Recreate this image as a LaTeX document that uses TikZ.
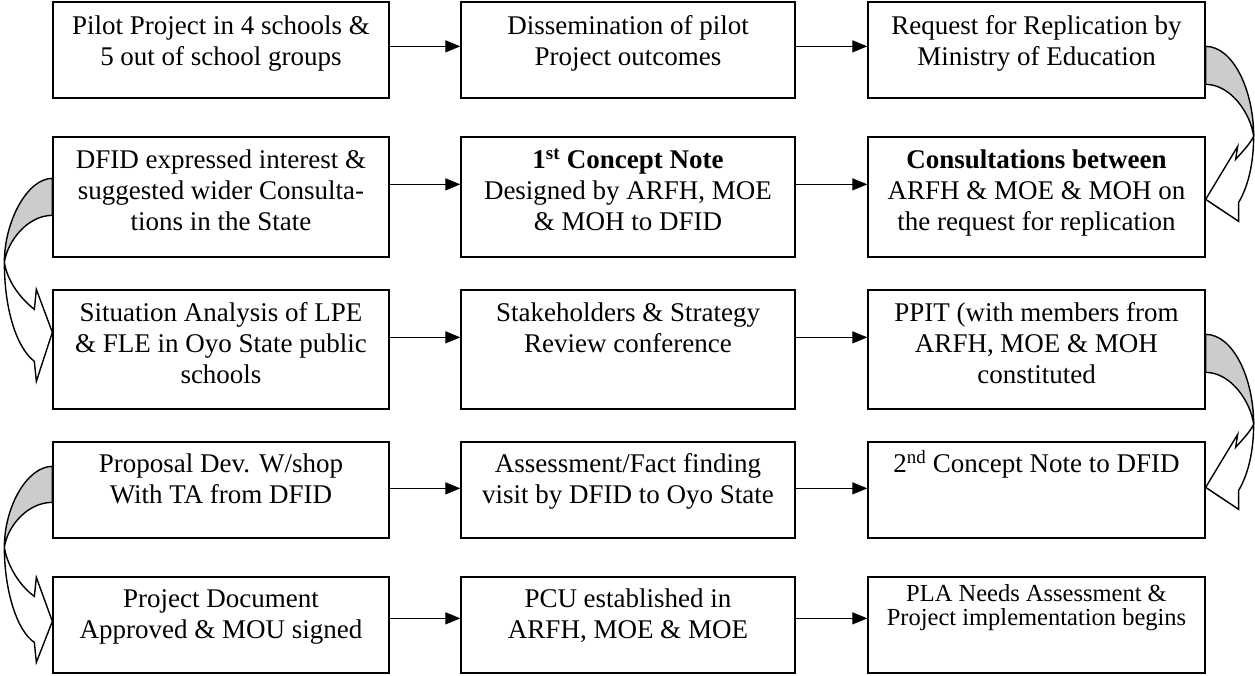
\documentclass[tikz,border=0pt]{standalone}
\usepackage{fontspec}
\setmainfont{Liberation Serif}
\usetikzlibrary{arrows.meta,calc}
\definecolor{bandgray}{RGB}{204,204,204}
\newcommand{\tstrut}{\rule{0pt}{24pt}}
\newcommand{\sstrut}{\rule{0pt}{20pt}}
\begin{document}
\begin{tikzpicture}[x=1pt,y=-1pt,
  box/.style={draw, line width=1.3pt, rectangle, inner sep=0pt},
  txt/.style={anchor=north, align=center, inner sep=0pt, font=\fontsize{27}{31}\selectfont},
  smalltxt/.style={anchor=north, align=center, inner sep=0pt, font=\fontsize{24.5}{23.5}\selectfont},
  arr/.style={line width=1.2pt, -{Triangle[length=15pt,width=12pt]}},
  band/.style={draw, line width=1.4pt, line join=miter}
]
\useasboundingbox (0,0) rectangle (1255,675);

% boxes
\node[box, minimum width=336pt, minimum height=96pt]  (b11) at (221,50) {};
\node[box, minimum width=334pt, minimum height=96pt]  (b12) at (628,50) {};
\node[box, minimum width=337pt, minimum height=96pt]  (b13) at (1036.5,50) {};
\node[box, minimum width=336pt, minimum height=120pt] (b21) at (221,197) {};
\node[box, minimum width=334pt, minimum height=120pt] (b22) at (628,197) {};
\node[box, minimum width=337pt, minimum height=120pt] (b23) at (1036.5,197) {};
\node[box, minimum width=336pt, minimum height=119pt] (b31) at (221,349.5) {};
\node[box, minimum width=334pt, minimum height=119pt] (b32) at (628,349.5) {};
\node[box, minimum width=337pt, minimum height=119pt] (b33) at (1036.5,349.5) {};
\node[box, minimum width=336pt, minimum height=96pt]  (b41) at (221,490) {};
\node[box, minimum width=334pt, minimum height=96pt]  (b42) at (628,490) {};
\node[box, minimum width=337pt, minimum height=96pt]  (b43) at (1036.5,490) {};
\node[box, minimum width=336pt, minimum height=96pt]  (b51) at (221,625) {};
\node[box, minimum width=334pt, minimum height=96pt]  (b52) at (628,625) {};
\node[box, minimum width=337pt, minimum height=96pt]  (b53) at (1036.5,625) {};

% texts
\node[txt] (t11) at ($(b11.north)+(0,9)$) {\tstrut Pilot Project in 4 schools \&\\5 out of school groups};
\node[txt] (t12) at ($(b12.north)+(0,9)$) {\tstrut Dissemination of pilot\\Project outcomes};
\node[txt] (t13) at ($(b13.north)+(0,9)$) {\tstrut Request for Replication by\\Ministry of Education};
\node[txt] (t21) at ($(b21.north)+(0,8)$) {\tstrut DFID expressed interest \&\\suggested wider Consulta-\\tions in the State};
\node[txt] (t22) at ($(b22.north)+(0,8)$) {\tstrut\textbf{1\textsuperscript{st} Concept Note}\\Designed by ARFH, MOE\\\& MOH to DFID};
\node[txt] (t23) at ($(b23.north)+(0,8)$) {\tstrut\textbf{Consultations between}\\ARFH \& MOE \& MOH on\\the request for replication};
\node[txt] (t31) at ($(b31.north)+(0,8)$) {\tstrut Situation Analysis of LPE\\\& FLE in Oyo State public\\schools};
\node[txt] (t32) at ($(b32.north)+(0,8)$) {\tstrut Stakeholders \& Strategy\\Review conference};
\node[txt] (t33) at ($(b33.north)+(0,8)$) {\tstrut PPIT (with members from\\ARFH, MOE \& MOH\\constituted};
\node[txt] (t41) at ($(b41.north)+(0,7)$) {\tstrut Proposal Dev. W/shop\\With TA from DFID};
\node[txt] (t42) at ($(b42.north)+(0,7)$) {\tstrut Assessment/Fact finding\\visit by DFID to Oyo State};
\node[txt] (t43) at ($(b43.north)+(0,7)$) {\tstrut 2\textsuperscript{nd} Concept Note to DFID};
\node[txt] (t51) at ($(b51.north)+(0,7)$) {\tstrut Project Document\\Approved \& MOU signed};
\node[txt] (t52) at ($(b52.north)+(0,7)$) {\tstrut PCU established in\\ARFH, MOE \& MOE};
\node[smalltxt] (t53) at ($(b53.north)+(0,5)$) {\sstrut PLA Needs Assessment \&\\Project implementation begins};

% horizontal arrows
\draw[arr] ($(b11.north east)+(0,45)$) -- ($(b12.north west)+(0,45)$);
\draw[arr] ($(b12.north east)+(0,45)$) -- ($(b13.north west)+(0,45)$);
\draw[arr] ($(b21.north east)+(0,48)$) -- ($(b22.north west)+(0,48)$);
\draw[arr] ($(b22.north east)+(0,48)$) -- ($(b23.north west)+(0,48)$);
\draw[arr] ($(b31.north east)+(0,48)$) -- ($(b32.north west)+(0,48)$);
\draw[arr] ($(b32.north east)+(0,48)$) -- ($(b33.north west)+(0,48)$);
\draw[arr] ($(b41.north east)+(0,47)$) -- ($(b42.north west)+(0,47)$);
\draw[arr] ($(b42.north east)+(0,47)$) -- ($(b43.north west)+(0,47)$);
\draw[arr] ($(b51.north east)+(0,42)$) -- ($(b52.north west)+(0,42)$);
\draw[arr] ($(b52.north east)+(0,42)$) -- ($(b53.north west)+(0,42)$);

% curved block arrows, right side
\foreach \b in {b13,b33}{
\begin{scope}[shift={(\b.north east)}]
  \path[band, fill=bandgray] (0,45) .. controls (27,45) and (48,88) .. (48,135)
     .. controls (45,112) and (25,83) .. (0,83) -- cycle;
  \path[band, fill=white] (48,135) .. controls (48,163) and (42,186) .. (33,201)
     -- (33,220) -- (0,198) -- (32,145) -- (30,158)
     .. controls (37,150) and (44,143) .. (48,135) -- cycle;
\end{scope}
}

% curved block arrows, left side
\begin{scope}[shift={(b21.north west)}]
  \path[band, fill=bandgray] (0,42) .. controls (-25,42) and (-48,85) .. (-48,126)
     .. controls (-45,105) and (-25,79) .. (0,79) -- cycle;
  \path[band, fill=white] (-48,126) .. controls (-48,175) and (-35,212) .. (-18,225)
     -- (-16,245) -- (0,196) -- (-16,153) -- (-18,173)
     .. controls (-32,162) and (-45,145) .. (-48,126) -- cycle;
\end{scope}
\begin{scope}[shift={(b41.north west)}]
  \path[band, fill=bandgray] (0,25) .. controls (-25,25) and (-48,65) .. (-48,106)
     .. controls (-45,85) and (-25,61) .. (0,61) -- cycle;
  \path[band, fill=white] (-48,106) .. controls (-48,150) and (-35,190) .. (-18,201)
     -- (-16,221) -- (0,180) -- (-16,136) -- (-18,155)
     .. controls (-32,145) and (-45,125) .. (-48,106) -- cycle;
\end{scope}
\end{tikzpicture}
\end{document}
